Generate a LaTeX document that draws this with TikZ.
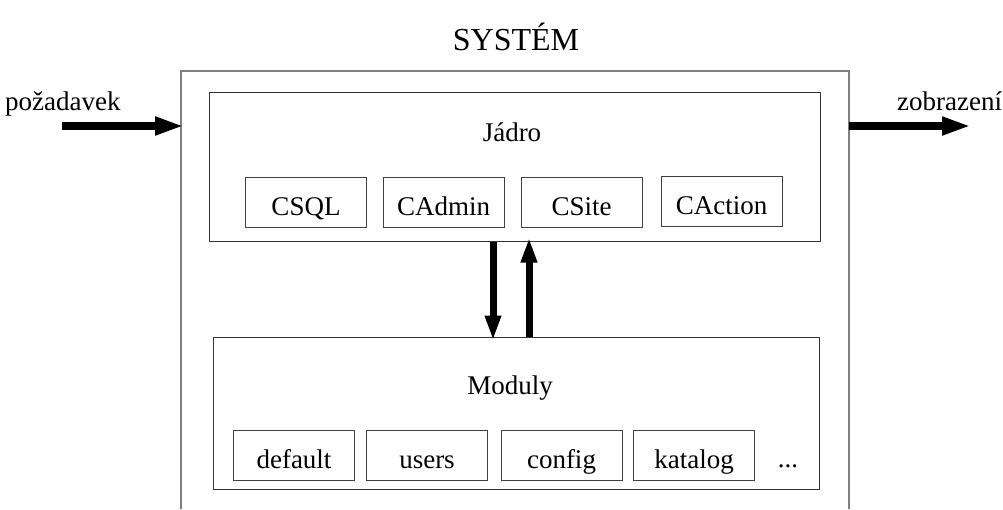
\documentclass[tikz,border=0pt]{standalone}
\usepackage{fontspec}
\setmainfont{Liberation Serif}
\usetikzlibrary{arrows.meta}
\tikzset{
  lbl/.style={inner sep=0pt, font=\fontsize{27}{31}\selectfont, anchor=base},
  boxc/.style={draw=black!75, line width=1pt, inner sep=0pt, minimum width=121pt, minimum height=50pt,
    text height=28pt, text depth=2pt, font=\fontsize{27}{31}\selectfont},
  bigbox/.style={draw=black!80, line width=1pt, inner sep=0pt},
  hflow/.style={line width=8pt, shorten >=-3pt, -{Triangle[length=29pt,width=17pt]}},
  vflow/.style={line width=7pt, shorten >=-4pt, -{Triangle[length=25pt,width=15pt]}},
}
\begin{document}
\begin{tikzpicture}[x=1pt,y=-1pt]
\useasboundingbox (0,0) rectangle (1003,509);
% title
\node[lbl, font=\fontsize{32}{36}\selectfont] (title) at (516,50) {SYSTÉM};
% outer system frame (open at bottom)
\coordinate (sysTL) at (181,71);
\coordinate (sysTR) at (849,71);
\draw[gray, line width=1.3pt] (181,509) -- (sysTL) -- (sysTR) -- (849,509);
% input / output
\coordinate (inStart) at (62,126);
\coordinate (inEnd) at (181,126);
\coordinate (outStart) at (849,126);
\coordinate (outEnd) at (968,126);
\draw[hflow] (inStart) -- (inEnd);
\draw[hflow] (outStart) -- (outEnd);
\node[lbl, anchor=base west] (poz) at (5,110) {požadavek};
\node[lbl, anchor=base west] (zob) at (897,110) {zobrazení};
% Jadro
\node[bigbox, minimum width=611pt, minimum height=149pt] (jadro) at (514.5,166.5) {};
\node[lbl] (jadrolbl) at (512,141) {Jádro};
\node[boxc] (csql) at (306,202) {CSQL};
\node[boxc] (cadmin) at (443.5,202) {CAdmin};
\node[boxc] (csite) at (581.5,202) {CSite};
\node[boxc] (caction) at (721.5,201.5) {CAction};
% Moduly
\node[bigbox, minimum width=606pt, minimum height=152pt] (moduly) at (516,413) {};
\node[lbl] (modlbl) at (510,394) {Moduly};
\node[boxc] (default) at (294,455) {default};
\node[boxc] (users) at (427,455) {users};
\node[boxc] (config) at (561.5,455) {config};
\node[boxc] (katalog) at (694,455) {katalog};
\node[lbl] (dots) at (788,467) {...};
% vertical arrows
\coordinate (dnx) at (493,0);
\coordinate (upx) at (529,0);
\draw[vflow] (jadro.south -| dnx) -- (moduly.north -| dnx);
\draw[vflow] (moduly.north -| upx) -- (jadro.south -| upx);
\end{tikzpicture}
\end{document}
